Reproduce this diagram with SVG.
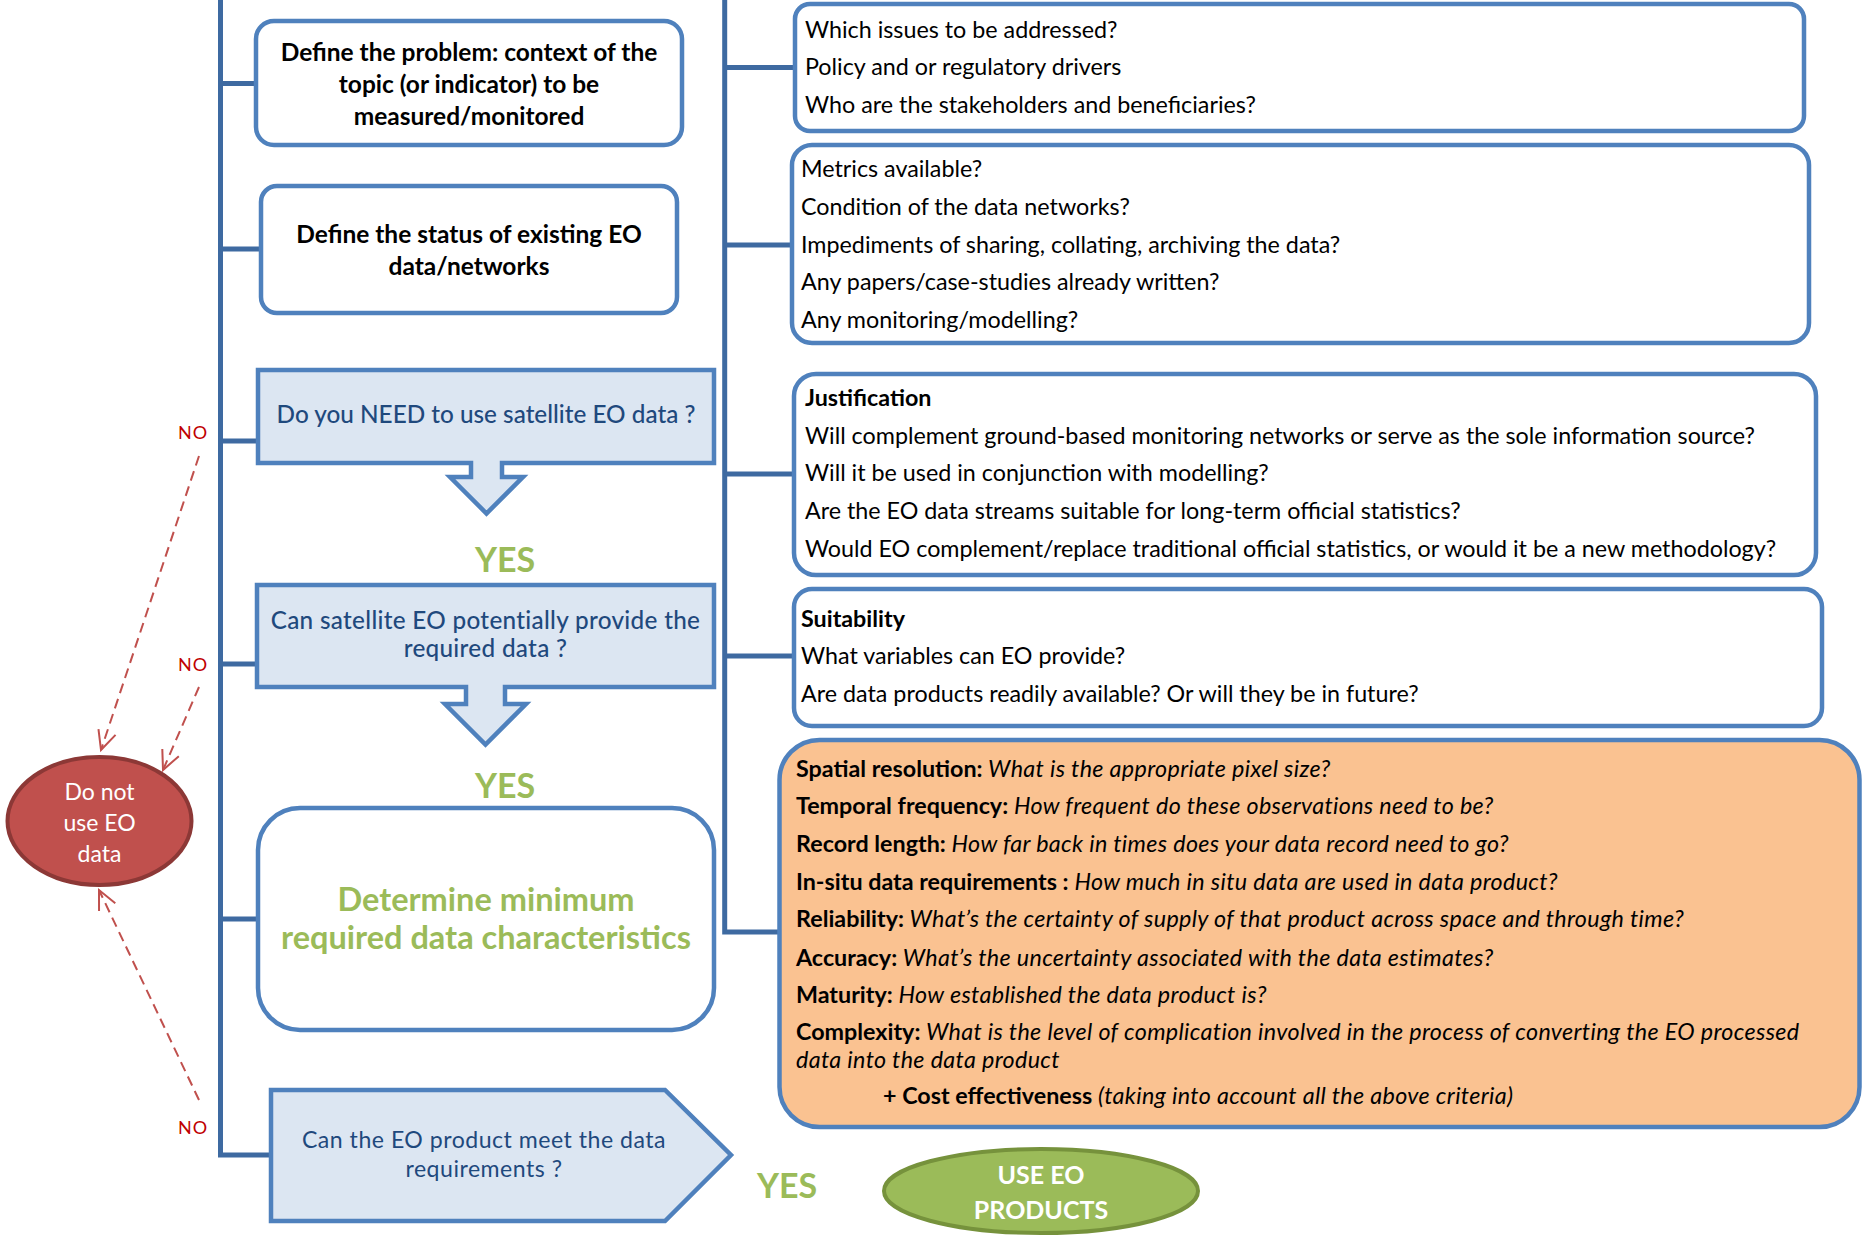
<svg xmlns="http://www.w3.org/2000/svg" width="1865" height="1239" viewBox="0 0 1865 1239">
<style>
  text { font-family: Lato, "Liberation Sans", sans-serif; }
  .box { fill: #ffffff; stroke: #4f81bd; stroke-width: 4.5; }
  .qbox { fill: #dce6f2; stroke: #4f81bd; stroke-width: 4.5; stroke-linejoin: miter; }
  .line { fill: none; stroke: #3e6aa1; stroke-width: 5; }
  .dash { fill: none; stroke: #c0504d; stroke-width: 2; stroke-dasharray: 10 6; }
  .btxt { font-size: 24.5px; font-weight: bold; fill: #000; text-anchor: middle; }
  .qtxt { font-size: 24.3px; fill: #1f497d; text-anchor: middle; font-weight: 500; }
  .ptxt { font-size: 23.1px; fill: #1f497d; text-anchor: middle; font-weight: normal; letter-spacing: 0.5px; }
  .rtxt { font-size: 23.3px; fill: #000; }
  .otxt { font-size: 23.3px; fill: #000; }
  .yes { font-size: 34px; font-weight: bold; fill: #9bbb59; text-anchor: middle; }
  .no { font-size: 18px; fill: #c00000; text-anchor: middle; letter-spacing: 1px; }
  .b { font-weight: bold; }
  .i { font-style: italic; letter-spacing: 0.35px; }
</style>
<defs>
  <marker id="vee" markerUnits="userSpaceOnUse" markerWidth="24" markerHeight="24" viewBox="0 0 24 24" refX="21" refY="12" orient="auto">
    <path d="M2,3 L21,12 L2,21" fill="none" stroke="#c0504d" stroke-width="2"/>
  </marker>
</defs>

<g id="connectors">
  <path class="line" d="M220.5,-3 V1155 H271"/>
  <path class="line" d="M220.5,83.5 H256 M220.5,249 H261 M220.5,441 H258 M220.5,664 H257 M220.5,919 H258"/>
  <path class="line" d="M724.7,-3 V932 H779.5"/>
  <path class="line" d="M724.7,67.5 H795 M724.7,245 H792 M724.7,474 H794 M724.7,656 H794"/>
  <path class="dash" d="M199,456 L101,750" marker-end="url(#vee)"/>
  <path class="dash" d="M199,687 L163,770" marker-end="url(#vee)"/>
  <path class="dash" d="M199,1100 L99,890" marker-end="url(#vee)"/>
  <text class="no" x="193" y="438.5">NO</text>
  <text class="no" x="193" y="670.5">NO</text>
  <text class="no" x="193" y="1133.5">NO</text>
  <text class="yes" x="505" y="572">YES</text>
  <text class="yes" x="505" y="798">YES</text>
  <text class="yes" x="787" y="1198">YES</text>
</g>

<g id="define-problem">
  <rect class="box" x="256" y="21" width="426" height="124" rx="18"/>
  <text class="btxt" x="469" y="61">Define the problem: context of the</text>
  <text class="btxt" x="469" y="93">topic (or indicator) to be</text>
  <text class="btxt" x="469" y="125">measured/monitored</text>
</g>

<g id="define-status">
  <rect class="box" x="261" y="186" width="416" height="127" rx="16"/>
  <text class="btxt" x="469" y="243">Define the status of existing EO</text>
  <text class="btxt" x="469" y="275">data/networks</text>
</g>

<g id="need-eo">
  <path class="qbox" d="M258,370 H714 V463 H502 V477 H523 L486.5,513.5 L450,477 H471 V463 H258 Z"/>
  <text class="qtxt" x="486" y="423">Do you NEED to use satellite EO data ?</text>
</g>

<g id="can-provide">
  <path class="qbox" d="M257,585 H714 V687 H505 V704 H526 L485.5,744.5 L445,704 H466 V687 H257 Z"/>
  <text class="qtxt" x="485.5" y="629" letter-spacing="0.3">Can satellite EO potentially provide the</text>
  <text class="qtxt" x="485.5" y="657" letter-spacing="0.3">required data ?</text>
</g>

<g id="determine">
  <rect class="box" x="258" y="808" width="456" height="222" rx="42"/>
  <text x="486" y="911" font-size="32.5" font-weight="bold" fill="#9bbb59" text-anchor="middle">Determine minimum</text>
  <text x="486" y="949" font-size="32.5" font-weight="bold" fill="#9bbb59" text-anchor="middle">required data characteristics</text>
</g>

<g id="meet-requirements">
  <path class="qbox" d="M271,1090 H665 L731,1155 L665,1221 H271 Z"/>
  <text class="ptxt" x="484" y="1148">Can the EO product meet the data</text>
  <text class="ptxt" x="484" y="1177">requirements ?</text>
</g>

<g id="do-not-use">
  <ellipse cx="99.5" cy="821" rx="92" ry="64" fill="#c0504d" stroke="#8c3836" stroke-width="4"/>
  <text x="99.5" y="800" font-size="23" fill="#fff" text-anchor="middle">Do not</text>
  <text x="99.5" y="831" font-size="23" fill="#fff" text-anchor="middle">use EO</text>
  <text x="99.5" y="862" font-size="23" fill="#fff" text-anchor="middle">data</text>
</g>

<g id="use-eo">
  <ellipse cx="1041" cy="1191" rx="157" ry="42" fill="#9bbb59" stroke="#76923c" stroke-width="4"/>
  <text x="1041" y="1184" font-size="25" font-weight="bold" fill="#fff" text-anchor="middle">USE EO</text>
  <text x="1041" y="1219" font-size="25" font-weight="bold" fill="#fff" text-anchor="middle">PRODUCTS</text>
</g>

<g id="issues">
  <rect class="box" x="795" y="4" width="1009" height="127" rx="15"/>
  <text class="rtxt" x="805" y="38">Which issues to be addressed?</text>
  <text class="rtxt" x="805" y="75">Policy and or regulatory drivers</text>
  <text class="rtxt" x="805" y="113">Who are the stakeholders and beneficiaries?</text>
</g>

<g id="status-questions">
  <rect class="box" x="792" y="145" width="1017" height="198" rx="20"/>
  <text class="rtxt" x="801" y="177">Metrics available?</text>
  <text class="rtxt" x="801" y="215">Condition of the data networks?</text>
  <text class="rtxt" x="801" y="253">Impediments of sharing, collating, archiving the data?</text>
  <text class="rtxt" x="801" y="290">Any papers/case-studies already written?</text>
  <text class="rtxt" x="801" y="328">Any monitoring/modelling?</text>
</g>

<g id="justification">
  <rect class="box" x="794" y="374" width="1022" height="201" rx="22"/>
  <text class="rtxt b" x="805" y="406">Justification</text>
  <text class="rtxt" x="805" y="444">Will complement ground-based monitoring networks or serve as the sole information source?</text>
  <text class="rtxt" x="805" y="481">Will it be used in conjunction with modelling?</text>
  <text class="rtxt" x="805" y="519">Are the EO data streams suitable for long-term official statistics?</text>
  <text class="rtxt" x="805" y="557">Would EO complement/replace traditional official statistics, or would it be a new methodology?</text>
</g>

<g id="suitability">
  <rect class="box" x="794" y="589" width="1028" height="137" rx="18"/>
  <text class="rtxt b" x="801" y="627">Suitability</text>
  <text class="rtxt" x="801" y="664">What variables can EO provide?</text>
  <text class="rtxt" x="801" y="702">Are data products readily available? Or will they be in future?</text>
</g>

<g id="characteristics">
  <rect x="779.5" y="740" width="1080" height="387" rx="40" fill="#fac291" stroke="#4f81bd" stroke-width="4.5"/>
  <text class="otxt" x="796" y="777"><tspan class="b">Spatial resolution:</tspan><tspan class="i"> What is the appropriate pixel size?</tspan></text>
  <text class="otxt" x="796" y="814"><tspan class="b">Temporal frequency:</tspan><tspan class="i"> How frequent do these observations need to be?</tspan></text>
  <text class="otxt" x="796" y="852"><tspan class="b">Record length:</tspan><tspan class="i"> How far back in times does your data record need to go?</tspan></text>
  <text class="otxt" x="796" y="890"><tspan class="b">In-situ data requirements :</tspan><tspan class="i"> How much in situ data are used in data product?</tspan></text>
  <text class="otxt" x="796" y="927"><tspan class="b">Reliability:</tspan><tspan class="i"> What’s the certainty of supply of that product across space and through time?</tspan></text>
  <text class="otxt" x="796" y="966"><tspan class="b">Accuracy:</tspan><tspan class="i"> What’s the uncertainty associated with the data estimates?</tspan></text>
  <text class="otxt" x="796" y="1003"><tspan class="b">Maturity:</tspan><tspan class="i"> How established the data product is?</tspan></text>
  <text class="otxt" x="796" y="1040"><tspan class="b">Complexity:</tspan><tspan class="i"> What is the level of complication involved in the process of converting the EO processed</tspan></text>
  <text class="otxt i" x="796" y="1068">data into the data product</text>
  <text class="otxt" x="883" y="1104"><tspan class="b">+ Cost effectiveness</tspan><tspan class="i"> (taking into account all the above criteria)</tspan></text>
</g>
</svg>
